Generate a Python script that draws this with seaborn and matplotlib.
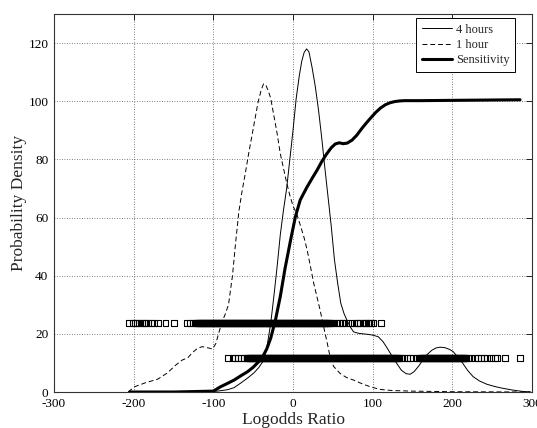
import matplotlib
matplotlib.use("Agg")
import matplotlib.pyplot as plt
import seaborn as sns
import pandas as pd

# ---- density curves (logodds ratio vs probability density) ----
hour1_x = [-207, -199, -185, -170, -158, -147, -139, -132, -126, -120, -114, -107,
           -101, -97, -93, -89, -85, -81, -76, -72, -68, -64, -60, -56, -52, -48,
           -44, -40, -37, -34, -31, -28, -24, -20, -16, -12, -8, -4, 0, 5, 9, 14,
           18, 22, 26, 30, 34, 38, 43, 47, 51, 59, 67, 76, 87, 97, 109, 125, 150,
           200, 250, 298]
hour1_y = [0, 1.8, 3.2, 4.4, 6.5, 9.3, 11.0, 11.8, 13.6, 15.0, 15.6, 15.2,
           14.8, 16.6, 20.5, 24.2, 26.8, 30.0, 40.0, 51.5, 62.0, 69.0, 75.0, 81.5,
           87.5, 93.5, 99.5, 103.8, 106.0, 105.5, 103.5, 101.0, 95.0, 89.0, 82.0,
           77.0, 72.0, 67.6, 64.0, 61.0, 57.5, 53.0, 48.5, 43.0, 37.4, 32.8, 28.2,
           23.0, 16.8, 11.5, 8.8, 6.4, 5.0, 4.1, 2.8, 1.8, 0.9, 0.5, 0.3, 0.1,
           0.05, 0]

hour4_x = [-205, -150, -110, -95, -82, -74, -66, -57, -49, -43, -38, -33, -28,
           -24, -20, -16, -12, -8, -4, 0, 4, 8, 11, 14, 17, 20, 24, 28, 32, 36,
           40, 44, 48, 52, 56, 60, 64, 68, 72, 76, 82, 88, 95, 101, 107, 113,
           118, 124, 130, 136, 142, 147, 152, 158, 163, 168, 174, 179, 184, 190,
           196, 201, 207, 213, 219, 226, 234, 243, 253, 263, 275, 288, 298]
hour4_y = [0, 0, 0.1, 0.3, 0.8, 1.5, 3.0, 4.8, 6.6, 8.4, 10.4, 15.0, 23.6,
           33.0, 43.0, 54.0, 62.5, 70.0, 80.0, 90.0, 101.0, 109.0, 113.8, 116.8,
           118.0, 117.0, 111.5, 105.0, 97.0, 87.5, 77.0, 67.0, 57.0, 45.5, 37.5,
           30.5, 27.0, 24.5, 22.3, 20.7, 20.2, 20.0, 19.8, 19.5, 19.0, 17.3, 15.2,
           12.5, 9.9, 7.5, 6.3, 6.1, 7.0, 9.0, 11.0, 12.8, 14.3, 15.1, 15.4,
           15.3, 14.7, 13.9, 12.0, 9.9, 7.5, 5.3, 3.8, 2.7, 1.9, 1.3, 0.7, 0.2,
           0.05]

sens_x = [-205, -150, -100, -91, -82, -74, -66, -57, -50, -45, -41, -37, -33,
          -28, -22, -16, -10, -3, 3, 9, 17, 24, 30, 36, 42, 48, 53, 58, 63, 68,
          74, 80, 86, 92, 98, 104, 110, 116, 122, 128, 134, 140, 160, 200, 240,
          285]
sens_y = [0, 0, 0.3, 1.8, 3.0, 4.1, 5.5, 7.0, 8.5, 9.9, 11.0, 12.7, 14.8,
          18.5, 24.8, 32.8, 42.5, 52.3, 60.3, 66.0, 70.2, 73.5, 76.2, 79.2,
          81.8, 84.0, 85.3, 85.7, 85.4, 85.6, 86.6, 88.3, 90.5, 92.5, 94.4, 96.2,
          97.7, 98.8, 99.5, 99.9, 100.1, 100.2, 100.2, 100.3, 100.4, 100.5]

# ---- individual sample logodds values (rug rows) ----
samples_1h = [
    -206, -201, -198, -196, -193, -190, -187, -185, -182, -178, -175, -170,
    -160, -149, -133, -129, -126, -123,
    -121.0, -120.1, -119.3, -118.2, -117.4, -116.5, -115.5, -114.7, -113.6,
    -112.8, -111.9, -110.9, -110.0, -109.2, -108.1, -107.3, -106.4, -105.4,
    -104.6, -103.5, -102.7, -101.8, -100.8, -99.9, -99.1, -98.0, -97.2, -96.3,
    -95.3, -94.5, -93.4, -92.6, -91.7, -90.7, -89.8, -89.0, -87.9, -87.1,
    -86.2, -85.2, -84.4, -83.3, -82.5, -81.6, -80.6, -79.7, -78.9, -77.8,
    -77.0, -76.1, -75.1, -74.3, -73.2, -72.4, -71.5, -70.5, -69.6, -68.8,
    -67.7, -66.9, -66.0, -65.0, -64.2, -63.1, -62.3, -61.4, -60.4, -59.5,
    -58.7, -57.6, -56.8, -55.9, -54.9, -54.1, -53.0, -52.2, -51.3, -50.3,
    -49.4, -48.6, -47.5, -46.7, -45.8, -44.8, -44.0, -42.9, -42.1, -41.2,
    -40.2, -39.3, -38.5, -37.4, -36.6, -35.7, -34.7, -33.9, -32.8, -32.0,
    -31.1, -30.1, -29.2, -28.4, -27.3, -26.5, -25.6, -24.6, -23.8, -22.7,
    -21.9, -21.0, -20.0, -19.1, -18.3, -17.2, -16.4, -15.5, -14.5, -13.7,
    -12.6, -11.8, -10.9, -9.9, -9.0, -8.2, -7.1, -6.3, -5.4, -4.4, -3.6,
    -2.5, -1.7, -0.8, 0.2, 1.1, 1.9, 3.0, 3.8, 4.7, 5.7, 6.5, 7.6, 8.4, 9.3,
    10.3, 11.2, 12.0, 13.1, 13.9, 14.8, 15.8, 16.6, 17.7, 18.5, 19.4, 20.4,
    21.3, 22.1, 23.2, 24.0, 24.9, 25.9, 26.7, 27.8, 28.6, 29.5, 30.5, 31.4,
    32.2, 33.3, 34.1, 35.0, 36.0, 36.8, 37.9, 38.7, 39.6, 40.6, 41.5, 42.3,
    43.4, 44.2, 45.1, 46.1,
    49, 52, 55, 58, 61, 63, 67, 71, 77, 80, 82, 84, 88, 90, 92, 94, 96, 98,
    101, 110]
samples_4h = [
    -82, -76, -73, -69, -65, -62, -58,
    -57.2, -56.3, -55.5, -54.4, -53.6, -52.7, -51.7, -50.8, -50.0, -48.9,
    -48.1, -47.2, -46.2, -45.4, -44.3, -43.5, -42.6, -41.6, -40.7, -39.9,
    -38.8, -38.0, -37.1, -36.1, -35.3, -34.2, -33.4, -32.5, -31.5, -30.6,
    -29.8, -28.7, -27.9, -27.0, -26.0, -25.2, -24.1, -23.3, -22.4, -21.4,
    -20.5, -19.7, -18.6, -17.8, -16.9, -15.9, -15.1, -14.0, -13.2, -12.3,
    -11.3, -10.4, -9.6, -8.5, -7.7, -6.8, -5.8, -5.0, -3.9, -3.1, -2.2, -1.2,
    -0.3, 0.5, 1.6, 2.4, 3.3, 4.3, 5.1, 6.2, 7.0, 7.9, 8.9, 9.8, 10.6, 11.7,
    12.5, 13.4, 14.4, 15.2, 16.3, 17.1, 18.0, 19.0, 19.9, 20.7, 21.8, 22.6,
    23.5, 24.5, 25.3, 26.4, 27.2, 28.1, 29.1, 30.0, 30.8, 31.9, 32.7, 33.6,
    34.6, 35.4, 36.5, 37.3, 38.2, 39.2, 40.1, 40.9, 42.0, 42.8, 43.7, 44.7,
    45.5, 46.6, 47.4, 48.3, 49.3, 50.2, 51.0, 52.1, 52.9, 53.8, 54.8, 55.6,
    56.7, 57.5, 58.4, 59.4, 60.3, 61.1, 62.2, 63.0, 63.9, 64.9, 65.7, 66.8,
    67.6, 68.5, 69.5, 70.4, 71.2, 72.3, 73.1, 74.0, 75.0, 75.8, 76.9, 77.7,
    78.6, 79.6, 80.5, 81.3, 82.4, 83.2, 84.1, 85.1, 85.9, 87.0, 87.8, 88.7,
    89.7, 90.6, 91.4, 92.5, 93.3, 94.2, 95.2, 96.0, 97.1, 97.9, 98.8, 99.8,
    100.7, 101.5, 102.6, 103.4, 104.3, 105.3, 106.1, 107.2, 108.0, 108.9,
    109.9, 110.8, 111.6, 112.7, 113.5, 114.4, 115.4, 116.2, 117.3, 118.1,
    119.0, 120.0, 120.9, 121.7, 122.8, 123.6, 124.5, 125.5, 126.3, 127.4,
    128.2, 129.1, 130.1, 131.0, 131.8, 132.9, 133.7,
    137, 140, 143, 147, 151, 155, 158,
    159.6, 160.5, 161.3, 162.4, 163.2, 164.1, 165.1, 166.0, 166.8, 167.9,
    168.7, 169.6, 170.6, 171.4, 172.5, 173.3, 174.2, 175.2, 176.1, 176.9,
    178.0, 178.8, 179.7, 180.7, 181.5, 182.6, 183.4, 184.3, 185.3, 186.2,
    187.0, 188.1, 188.9, 189.8, 190.8, 191.6, 192.7, 193.5, 194.4, 195.4,
    196.3, 197.1, 198.2, 199.0, 199.9, 200.9, 201.7, 202.8, 203.6, 204.5,
    205.5, 206.4, 207.2, 208.3, 209.1, 210.0, 211.0, 211.8, 212.9, 213.7,
    214.6, 215.6, 216.5, 217.3,
    220, 224, 228, 232, 236, 240, 244, 249, 253, 256, 266, 285]
row_level_1h = 23.8
row_level_4h = 11.8

series_labels = ["4 hours", "1 hour", "Sensitivity"]
x_ticks = [-300, -200, -100, 0, 100, 200, 300]
y_ticks = [0, 20, 40, 60, 80, 100, 120]

sns.set_theme(style="white")
plt.rcParams["font.family"] = ["Liberation Serif", "DejaVu Serif"]
plt.rcParams["axes.unicode_minus"] = False

fig = plt.figure(figsize=(5.37, 4.28), dpi=100)
ax = fig.add_axes([0.1006, 0.0841, 0.8901, 0.8832])

sns.lineplot(x=hour4_x, y=hour4_y, ax=ax, color="black", linewidth=0.7,
             label=series_labels[0], sort=False)
sns.lineplot(x=hour1_x, y=hour1_y, ax=ax, color="black", linewidth=0.7,
             linestyle=(0, (5, 3)), label=series_labels[1], sort=False)
sns.lineplot(x=sens_x, y=sens_y, ax=ax, color="black", linewidth=2.2,
             label=series_labels[2], sort=False)

rug = pd.DataFrame({
    "logodds": samples_1h + samples_4h,
    "level": [row_level_1h] * len(samples_1h) + [row_level_4h] * len(samples_4h),
})
sns.scatterplot(data=rug, x="logodds", y="level", ax=ax, marker="s", s=18,
                color="black", edgecolor="black", linewidth=0.8,
                legend=False, zorder=3)
# hollow squares
ax.collections[-1].set_facecolor("none")

ax.set_xlim(-300, 300)
ax.set_ylim(0, 130)
ax.set_xticks(x_ticks)
ax.set_yticks(y_ticks)
ax.grid(True, linestyle=(0, (1, 2)), color="#555555", linewidth=0.6)
ax.tick_params(direction="in", top=True, right=True, length=4, width=0.6,
               labelsize=9.5, pad=4, colors="black")
for sp in ax.spines.values():
    sp.set_color("#333333")
    sp.set_linewidth(0.8)

ax.set_xlabel("Logodds Ratio", fontsize=12.5, labelpad=2)
ax.set_ylabel("Probability Density", fontsize=12.5, labelpad=1)

leg = ax.legend(loc="upper right", bbox_to_anchor=(0.9644, 0.9894),
                fontsize=9, frameon=True, fancybox=False, framealpha=1,
                edgecolor="black", handlelength=2.4, handletextpad=0.3,
                borderpad=0.45, labelspacing=0.26, borderaxespad=0)
leg.get_frame().set_linewidth(0.7)

fig.savefig("out.png", dpi=100)
